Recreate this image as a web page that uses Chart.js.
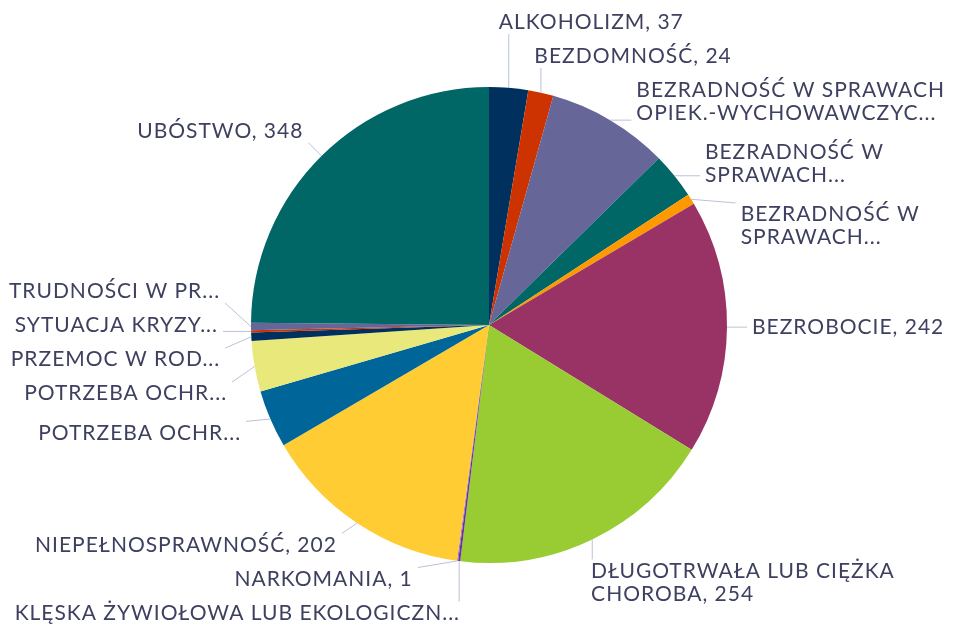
<!DOCTYPE html>
<html>
<head>
<meta charset="utf-8">
<script src="https://cdn.jsdelivr.net/npm/chart.js@4.4.0/dist/chart.umd.min.js"></script>
<style>
  html, body { margin: 0; padding: 0; background: #fff; }
  #wrap { width: 957px; height: 627px; position: relative; }
</style>
</head>
<body>
<div id="wrap"><canvas id="reasonsChart"></canvas></div>
<script>
// names as shown on the picture ("\n" = line break, "..." = cut by the chart)
const categories = [
  'ALKOHOLIZM',
  'BEZDOMNOŚĆ',
  'BEZRADNOŚĆ W SPRAWACH\nOPIEK.-WYCHOWAWCZYC...',
  'BEZRADNOŚĆ W\nSPRAWACH...',
  'BEZRADNOŚĆ W\nSPRAWACH...',
  'BEZROBOCIE',
  'DŁUGOTRWAŁA LUB CIĘŻKA\nCHOROBA',
  'KLĘSKA ŻYWIOŁOWA LUB EKOLOGICZN...',
  'NARKOMANIA',
  'NIEPEŁNOSPRAWNOŚĆ',
  'POTRZEBA OCHR...',
  'POTRZEBA OCHR...',
  'PRZEMOC W ROD...',
  'SYTUACJA KRYZY...',
  'TRUDNOŚCI W PR...',
  'UBÓSTWO'
];
const values = [37, 24, 116, 44, 10, 242, 254, 2, 1, 202, 55, 48, 8, 2, 7, 348];
const sliceColors = [
  '#00305e', '#cc3300', '#666699', '#006666', '#ff9900', '#993366',
  '#99cc33', '#663399', '#9966cc', '#ffcc33', '#006699', '#e9e87a',
  '#00305e', '#cc3300', '#666699', '#006666'
];

const labelFont = '21px Lato';
const labelColor = '#3e4060';
const leaderColor = '#b8c3d6';

function labelLines(i) {
  const lines = categories[i].split('\n');
  const last = lines.length - 1;
  if (!lines[last].endsWith('...')) lines[last] += ', ' + values[i];
  return lines;
}

const outsideLabels = {
  id: 'outsideLabels',
  afterDatasetsDraw(chart) {
    const ctx = chart.ctx;
    const meta = chart.getDatasetMeta(0);
    const lineH = 23, gap = 11;
    const reachY = 35, reachX = 25;
    ctx.save();
    ctx.font = labelFont;
    ctx.letterSpacing = '1px';

    const items = meta.data.map((arc, i) => {
      const mid = (arc.startAngle + arc.endAngle) / 2;
      const r = arc.outerRadius;
      const lines = labelLines(i);
      return {
        lines,
        cx: arc.x, cy: arc.y, r,
        ex: arc.x + Math.cos(mid) * r,
        ey: arc.y + Math.sin(mid) * r,
        ndx: Math.cos(mid) * (r + reachX),
        ny: arc.y + Math.sin(mid) * (r + reachY),
        right: Math.cos(mid) >= 0,
        step: lines.length * lineH + gap + (lines.length - 1) * 5,
        w: Math.max(...lines.map(l => ctx.measureText(l).width))
      };
    });

    const top = 20, bottom = 613;
    function place(c) {
      let off = 0, sum = 0;
      c.items.forEach(it => { sum += it.ny - off; off += it.step; });
      c.size = off;
      c.start = sum / c.items.length;
      const last = c.items[c.items.length - 1];
      const tail = c.size - last.step + (last.lines.length - 1) * lineH;
      c.start = Math.min(c.start, bottom - tail);
      c.start = Math.max(c.start, top);
    }
    function spread(list) {
      list.sort((a, b) => a.ny - b.ny);
      const clusters = [];
      list.forEach(it => {
        const c = { items: [it] };
        place(c);
        clusters.push(c);
        while (clusters.length > 1) {
          const a = clusters[clusters.length - 2];
          const b = clusters[clusters.length - 1];
          if (a.start + a.size <= b.start) break;
          a.items = a.items.concat(b.items);
          clusters.pop();
          place(a);
        }
      });
      clusters.forEach(c => {
        let y = c.start;
        c.items.forEach(it => { it.y = y; y += it.step; });
      });
    }
    spread(items.filter(it => it.right));
    spread(items.filter(it => !it.right));

    ctx.textBaseline = 'middle';
    items.forEach(it => {
      const n = it.lines.length;
      const yc = it.y + (n - 1) * lineH / 2;
      const R = it.r + reachX;
      const dy = yc - it.cy;
      let dx = Math.sqrt(Math.max(0, R * R - dy * dy));
      let tx, x0, x1;
      if (it.right) {
        dx = Math.max(dx + (n > 1 ? 8 : 0), Math.abs(it.ndx) - 12);
        tx = it.cx + dx;
        x0 = tx - 5; x1 = tx + it.w + 5;
        ctx.textAlign = 'left';
      } else {
        dx = Math.max(dx, Math.abs(it.ndx) - 12);
        tx = it.cx - dx - 8;
        x0 = tx - it.w - 5; x1 = tx + 5;
        ctx.textAlign = 'right';
      }
      const y0 = it.y - lineH / 2, y1 = it.y + (n - 1) * lineH + lineH / 2;
      const px = Math.min(Math.max(it.ex, x0), x1);
      const py = Math.min(Math.max(it.ey, y0), y1);

      ctx.strokeStyle = leaderColor;
      ctx.lineWidth = 1;
      ctx.beginPath();
      ctx.moveTo(it.ex, it.ey);
      ctx.lineTo(px, py);
      ctx.stroke();

      ctx.fillStyle = labelColor;
      it.lines.forEach((line, k) => ctx.fillText(line, tx, it.y + k * lineH));
    });
    ctx.restore();
  }
};

const ctx = document.getElementById('reasonsChart').getContext('2d');
const reasonsChart = new Chart(ctx, {
  type: 'pie',
  data: {
    labels: categories,
    datasets: [{
      data: values,
      backgroundColor: sliceColors,
      borderWidth: 0
    }]
  },
  options: {
    responsive: true,
    maintainAspectRatio: false,
    animation: false,
    layout: { padding: { top: 87, bottom: 64, left: 251, right: 230 } },
    plugins: {
      legend: { display: false },
      tooltip: { enabled: false }
    }
  },
  plugins: [outsideLabels]
});
</script>
</body>
</html>
